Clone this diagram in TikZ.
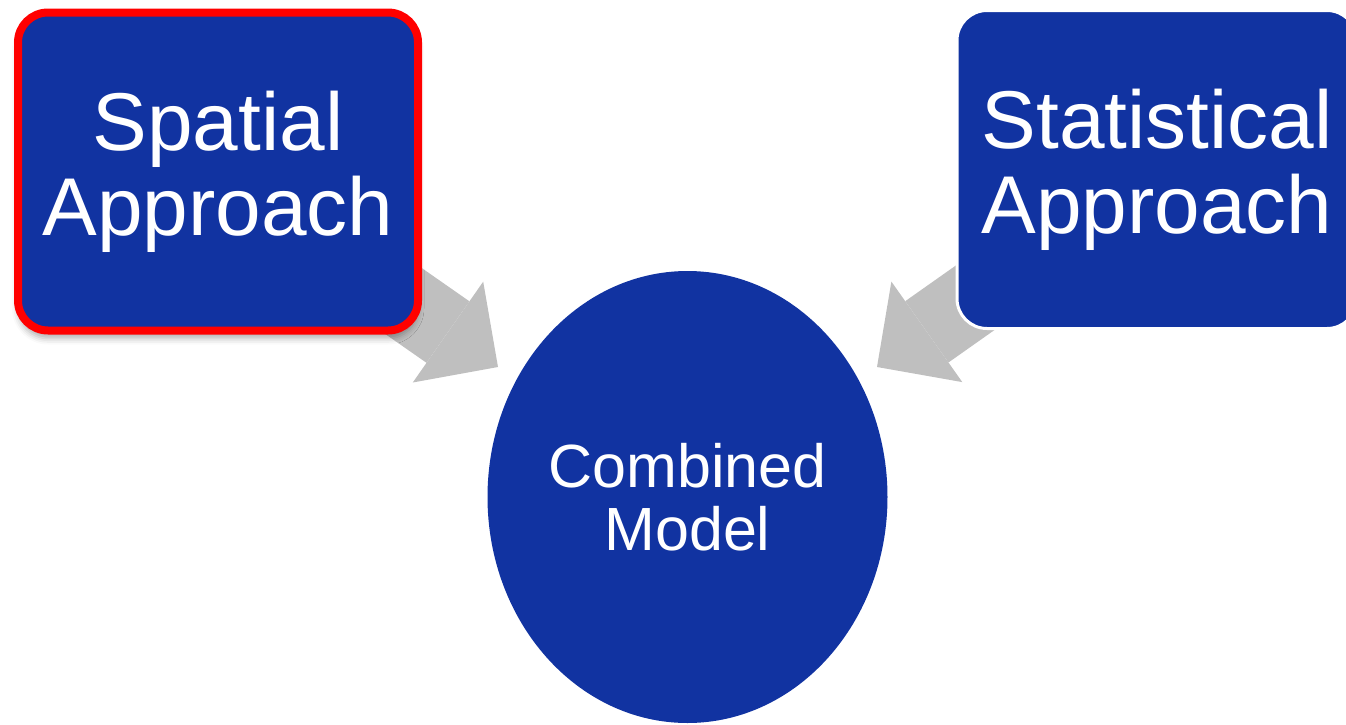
\documentclass[tikz,border=0pt]{standalone}
\usepackage{fontspec}
\setmainfont{Liberation Sans}
\usetikzlibrary{arrows.meta,shapes.geometric,backgrounds,shadows.blur}
\definecolor{boxblue}{RGB}{17,51,161}
\definecolor{arrowgray}{RGB}{191,191,191}
\tikzset{
  approach/.style = {
    rectangle, rounded corners=15pt, fill=boxblue, text=white,
    minimum width=200pt, minimum height=159pt, inner sep=0pt,
    align=center, font=\fontsize{41}{42.5}\selectfont
  },
  picked/.style = {
    draw=red, line width=4pt,
    blur shadow={shadow xshift=0pt, shadow yshift=-4pt,
      shadow blur radius=3pt, shadow opacity=30}
  },
  model/.style = {
    ellipse, fill=boxblue, text=white,
    minimum width=200pt, minimum height=226pt, inner sep=0pt,
    align=center, font=\fontsize{30.5}{31.5}\selectfont
  },
  feed/.style = {
    arrowgray, line width=37.5pt,
    -{Triangle[length=30.5pt,width=61.5pt,line width=0pt]}
  }
}

\begin{document}
\begin{tikzpicture}[x=0.5pt,y=-0.5pt]
  \clip (0,0) rectangle (1346,724);
  % the two inputs and the result
  \node[approach,picked] (spatial) at (218,171.5) {Spatial\\Approach};
  \node[approach,draw=white,line width=1.5pt] (statistical) at (1157,169.5) {Statistical\\Approach};
  \node[model] (combined) at (687.5,497) {Combined\\Model};
  % 
  \coordinate (tipL) at (498,367);
  \coordinate (tipR) at (877,367);
  \begin{scope}[on background layer]
    \draw[feed] (spatial.center) -- (tipL);
    \draw[feed] (statistical.center) -- (tipR);
  \end{scope}
\end{tikzpicture}
\end{document}
